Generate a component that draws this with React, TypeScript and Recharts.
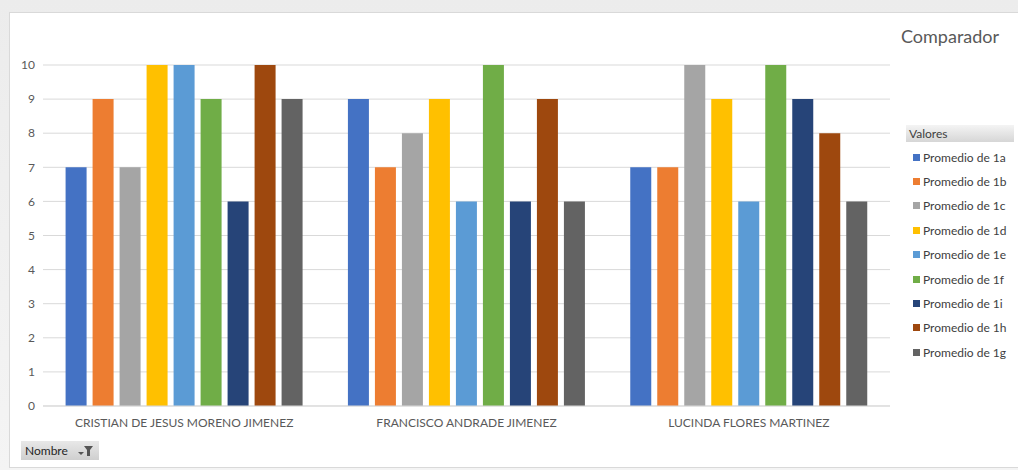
import React from 'react'
import { BarChart, Bar, XAxis, YAxis, CartesianGrid } from 'recharts'

const students = [
  'CRISTIAN DE JESUS MORENO JIMENEZ',
  'FRANCISCO ANDRADE JIMENEZ',
  'LUCINDA FLORES MARTINEZ',
]

const seriesNames = ['1a', '1b', '1c', '1d', '1e', '1f', '1i', '1h', '1g']
const seriesColors = ['#4472C4', '#ED7D31', '#A5A5A5', '#FFC000', '#5B9BD5', '#70AD47', '#264478', '#9E480E', '#636363']

const p1a = [7, 9, 7]
const p1b = [9, 7, 7]
const p1c = [7, 8, 10]
const p1d = [10, 9, 9]
const p1e = [10, 6, 6]
const p1f = [9, 10, 10]
const p1i = [6, 6, 9]
const p1h = [10, 9, 8]
const p1g = [9, 6, 6]

const yTicks = [0, 1, 2, 3, 4, 5, 6, 7, 8, 9, 10]

const seriesValues = [p1a, p1b, p1c, p1d, p1e, p1f, p1i, p1h, p1g]

const data = students.map((name, i) => {
  const row: Record<string, string | number> = { name }
  seriesNames.forEach((s, j) => {
    row[s] = seriesValues[j][i]
  })
  return row
})

const FONT = 'Lato, "Open Sans", sans-serif'

// legend drawn outside the chart so it doesn't eat plot space
function LegendBox() {
  return (
    <div style={{ position: 'absolute', left: 906, top: 125, width: 108, fontFamily: FONT }}>
      <div
        style={{
          height: 17,
          lineHeight: '17px',
          fontSize: 12,
          color: '#404040',
          paddingLeft: 3,
          background: 'linear-gradient(#f4f4f4, #d6d6d6)',
        }}
      >
        Valores
      </div>
      <div style={{ marginTop: 3 }}>
        {seriesNames.map((s, j) => (
          <div key={s} style={{ height: 24.4, display: 'flex', alignItems: 'center' }}>
            <span style={{ width: 7, height: 7, background: seriesColors[j], marginLeft: 7, marginRight: 3 }} />
            <span style={{ fontSize: 12, color: '#404040' }}>Promedio de {s}</span>
          </div>
        ))}
      </div>
    </div>
  )
}

export default function App() {
  return (
    <div
      style={{
        position: 'absolute',
        left: 0,
        top: 0,
        width: 1018,
        height: 470,
        background: 'linear-gradient(#ececec, #f4f4f4)',
        overflow: 'hidden',
      }}
    >
      <div
        style={{
          position: 'absolute',
          left: 9,
          top: 12,
          width: 1018,
          height: 456,
          background: '#fff',
          border: '1px solid #d9d9d9',
          boxSizing: 'border-box',
        }}
      />
      <div style={{ position: 'absolute', left: 0, top: 0 }}>
        <BarChart
          width={1018}
          height={470}
          data={data}
          margin={{ top: 65, right: 128, bottom: 0, left: 0 }}
          barCategoryGap="8%"
          barGap={6}
        >
          <CartesianGrid vertical={false} stroke="#d9d9d9" />
          <XAxis
            dataKey="name"
            height={64}
            tickLine={false}
            axisLine={{ stroke: '#d9d9d9' }}
            tick={{ fill: '#595959', fontSize: 12, fontFamily: FONT }}
            tickMargin={6}
          />
          <YAxis
            width={43}
            domain={[0, 10]}
            ticks={yTicks}
            tickLine={false}
            axisLine={false}
            tick={{ fill: '#595959', fontSize: 12, fontFamily: FONT }}
          />
          {seriesNames.map((s, j) => (
            <Bar key={s} dataKey={s} fill={seriesColors[j]} isAnimationActive={false} />
          ))}
        </BarChart>
      </div>
      <LegendBox />
      <div
        style={{
          position: 'absolute',
          left: 901,
          top: 25,
          fontFamily: FONT,
          fontSize: 18,
          color: '#595959',
        }}
      >
        Comparador
      </div>
      <div
        style={{
          position: 'absolute',
          left: 21,
          top: 441,
          width: 78,
          height: 19,
          background: 'linear-gradient(#e8e8e8, #cfcfcf)',
          fontFamily: FONT,
          fontSize: 12,
          color: '#262626',
          lineHeight: '19px',
          paddingLeft: 4,
          boxSizing: 'border-box',
        }}
      >
        Nombre
        <svg width="16" height="14" style={{ position: 'absolute', left: 56, top: 3 }}>
          <polygon points="7,2 16,2 13,6 13,12 10,12 10,6" fill="#555" />
          <polygon points="1,8 7,8 4,11" fill="#555" />
        </svg>
      </div>
    </div>
  )
}
